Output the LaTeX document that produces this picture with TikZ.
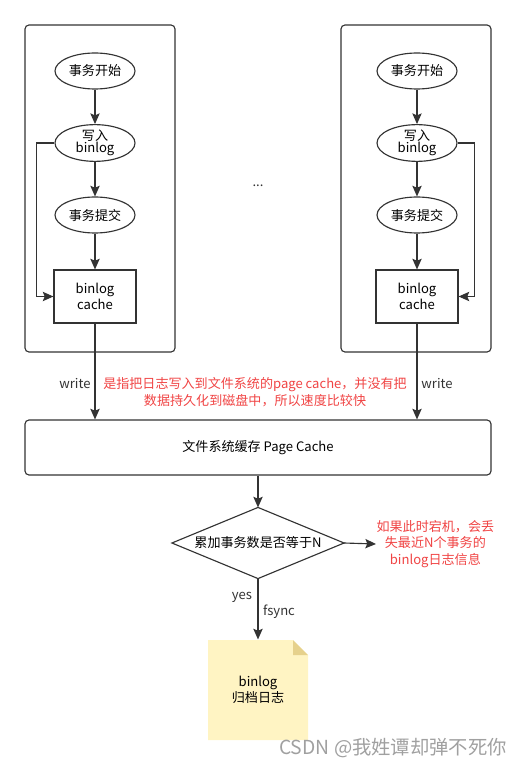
\documentclass[tikz,border=0pt]{standalone}
\usepackage{fontspec}
\setmainfont{Noto Sans CJK SC}
\usetikzlibrary{shapes.geometric,arrows.meta}

\definecolor{lineGray}{RGB}{51,51,51}
\definecolor{noteRed}{RGB}{240,68,68}
\definecolor{noteFill}{RGB}{255,244,195}
\definecolor{noteFold}{RGB}{230,209,140}

\tikzset{every picture/.style={line width=0.85pt}}
\tikzset{
  arr/.style={draw=lineGray, -{Stealth[length=8pt,width=7pt,inset=1.5pt]}},
  stepell/.style={ellipse, draw=lineGray, minimum width=60pt, minimum height=27pt, inner sep=0pt, align=center, font=\fontsize{9.8}{11}\selectfont},
  cachebox/.style={rectangle, draw=lineGray, minimum width=61.5pt, minimum height=39.75pt, align=center, font=\fontsize{9.8}{12}\selectfont},
  lbl/.style={font=\fontsize{9.8}{12}\selectfont, text=lineGray, inner sep=0pt},
  redlbl/.style={font=\fontsize{9.8}{12.5}\selectfont, text=noteRed, align=center, inner sep=0pt}
}

\begin{document}
\begin{tikzpicture}[x=0.75pt,y=0.75pt,yscale=-1,xscale=1]
	\useasboundingbox (0,0) rectangle (524,766);

	%Rounded Rect (left group)
	\draw [lineGray, rounded corners=3] (25,25) rectangle (175,352) ;
	%Rounded Rect (right group)
	\draw [lineGray, rounded corners=3] (341,25) rectangle (491,352) ;

	%Left flow
	\node [stepell] (lbegin) at (95,71) {事务开始};
	\node [stepell] (lwrite) at (95,143) {写入\\[-2pt]binlog};
	\node [stepell] (lcommit) at (95,215) {事务提交};
	\node [cachebox] (lcache) at (95,296.5) {binlog\\cache};
	\draw [arr] (lbegin) -- (lwrite) ;
	\draw [arr] (lwrite) -- (lcommit) ;
	\draw [arr] (lcommit) -- (lcache) ;
	\draw [arr] (lwrite.west) -- ++(-18,0) |- (lcache.west) ;

	%Right flow
	\node [stepell] (rbegin) at (417,71) {事务开始};
	\node [stepell] (rwrite) at (417,143) {写入\\[-2pt]binlog};
	\node [stepell] (rcommit) at (417,215) {事务提交};
	\node [cachebox] (rcache) at (417,296.5) {binlog\\cache};
	\draw [arr] (rbegin) -- (rwrite) ;
	\draw [arr] (rwrite) -- (rcommit) ;
	\draw [arr] (rcommit) -- (rcache) ;
	\draw [arr] (rwrite.east) -- ++(17,0) |- (rcache.east) ;

	% Text Node
	\node [lbl] (dots) at (258,186) {...};

	%Page cache
	\node [rectangle, rounded corners=3, draw=lineGray, minimum width=349.5pt, minimum height=41.25pt, font=\fontsize{9.8}{12}\selectfont] (pagecache) at (258,447.5) {文件系统缓存 Page Cache};
	\draw [arr] (lcache.south) -- (lcache.south |- pagecache.north) ;
	\draw [arr] (rcache.south) -- (rcache.south |- pagecache.north) ;

	% Text Node
	\node [lbl] (lwritelbl) at (75,384) {write};
	% Text Node
	\node [lbl] (rwritelbl) at (437,384) {write};
	% Text Node
	\node [redlbl] (pcnote) at (255,392) {是指把日志写入到文件系统的page cache，并没有把\\数据持久化到磁盘中，所以速度比较快};

	%Decision
	\node [rectangle, minimum width=128.25pt, minimum height=52.5pt, inner sep=0pt, font=\fontsize{9.8}{12}\selectfont] (check) at (258,543) {累加事务数是否等于N};
	\draw [lineGray] (check.north) -- (check.east) -- (check.south) -- (check.west) -- cycle ;
	\draw [arr] (pagecache.south) -- (check.north) ;

	% Text Node
	\node [redlbl, anchor=west] (lossnote) at (376,544) {如果此时宕机，会丢\\失最近N个事务的\\binlog日志信息};
	\draw [arr] (check.east) -- (lossnote.west) ;

	%Note shape
	\fill [noteFill] (208,640) -- (293,640) -- (308,655) -- (308,740) -- (208,740) -- cycle ;
	\fill [noteFold] (293,640) -- (308,655) -- (293,655) -- cycle ;
	\node [rectangle, minimum width=75pt, minimum height=75pt, align=center, font=\fontsize{9.8}{12}\selectfont] (archive) at (258,690) {binlog\\归档日志};
	\draw [arr] (check.south) -- (archive.north) ;

	% Text Node
	\node [lbl] (yeslbl) at (242,597) {yes};
	% Text Node
	\node [lbl] (fsynclbl) at (279,612) {fsync};

	% Text Node
	\node [font=\fontsize{14.5}{16}\selectfont, text={rgb,255:red,160;green,160;blue,160}, inner sep=0pt] (mark) at (393,748) {CSDN @我姓谭却弹不死你};

\end{tikzpicture}
\end{document}
